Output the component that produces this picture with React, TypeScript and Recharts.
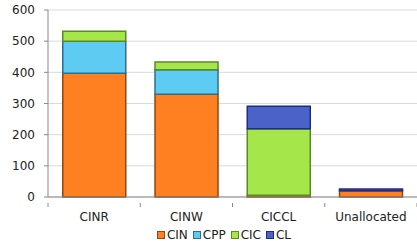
import React from "react";
import { BarChart, Bar, XAxis, YAxis, CartesianGrid, Legend } from "recharts";

const categories = ["CINR", "CINW", "CICCL", "Unallocated"];
const cinValues = [397, 330, 6, 20];
const cppValues = [103, 78, 0, 0];
const cicValues = [32, 25, 213, 0];
const clValues = [0, 0, 72, 6];
const yTicks = [0, 100, 200, 300, 400, 500, 600];

const series = [
  { key: "CIN", fill: "#FF8021", stroke: "#8A4A12" },
  { key: "CPP", fill: "#5DCBF2", stroke: "#2F6F8E" },
  { key: "CIC", fill: "#A5E64B", stroke: "#5A8A24" },
  { key: "CL", fill: "#4B63C9", stroke: "#1D2D80" },
];

const data = categories.map((name, i) => ({
  name,
  CIN: cinValues[i],
  CPP: cppValues[i],
  CIC: cicValues[i],
  CL: clValues[i],
}));

const font = "'DejaVu Sans', sans-serif";

const CategoryTick = (props: any) => {
  const { x, y, payload, index, visibleTicksCount } = props;
  const half = payload && payload.offset ? payload.offset : 0;
  const axisY = y - 9;
  const last = index === (visibleTicksCount ?? categories.length) - 1;
  return (
    <g>
      <line x1={x - half} x2={x - half} y1={axisY} y2={axisY + 4} stroke="#888" />
      {last && <line x1={x + half} x2={x + half} y1={axisY} y2={axisY + 4} stroke="#888" />}
      <text
        x={x}
        y={y}
        dy="0.71em"
        textAnchor="middle"
        fill="#222"
        fontSize={12}
        fontFamily={font}
      >
        {payload.value}
      </text>
    </g>
  );
};

const LegendContent = () => (
  <div
    style={{
      display: "flex",
      justifyContent: "center",
      alignItems: "center",
      fontFamily: font,
      fontSize: 12,
      color: "#222",
      paddingLeft: 36,
      paddingTop: 2,
    }}
  >
    {series.map((s) => (
      <div key={s.key} style={{ display: "flex", alignItems: "center", marginRight: 5 }}>
        <span
          style={{
            display: "inline-block",
            width: 6,
            height: 6,
            background: s.fill,
            border: `1.5px solid ${s.stroke}`,
            marginRight: 2,
          }}
        />
        <span>{s.key}</span>
      </div>
    ))}
  </div>
);

export default function App() {
  return (
    <div style={{ position: "absolute", left: 0, top: 0, background: "#fff" }}>
      <BarChart
        width={417}
        height={246}
        data={data}
        margin={{ top: 10, right: 0, left: 0, bottom: 0 }}
        barCategoryGap="16%"
      >
        <CartesianGrid vertical={false} stroke="#d9d9d9" />
        <XAxis
          dataKey="name"
          tickLine={false}
          axisLine={{ stroke: "#888" }}
          tick={<CategoryTick />}
          tickMargin={9}
          height={29}
          interval={0}
        />
        <YAxis
          domain={[0, 600]}
          ticks={yTicks}
          tickSize={4}
          tickMargin={9}
          width={48}
          axisLine={{ stroke: "#888" }}
          tickLine={{ stroke: "#888" }}
          tick={{ fill: "#222", fontSize: 12, fontFamily: font }}
        />
        <Legend verticalAlign="bottom" height={20} content={<LegendContent />} />
        {series.map((s) => (
          <Bar
            key={s.key}
            dataKey={s.key}
            stackId="a"
            fill={s.fill}
            stroke={s.stroke}
            strokeWidth={1.5}
            isAnimationActive={false}
          />
        ))}
      </BarChart>
    </div>
  );
}
